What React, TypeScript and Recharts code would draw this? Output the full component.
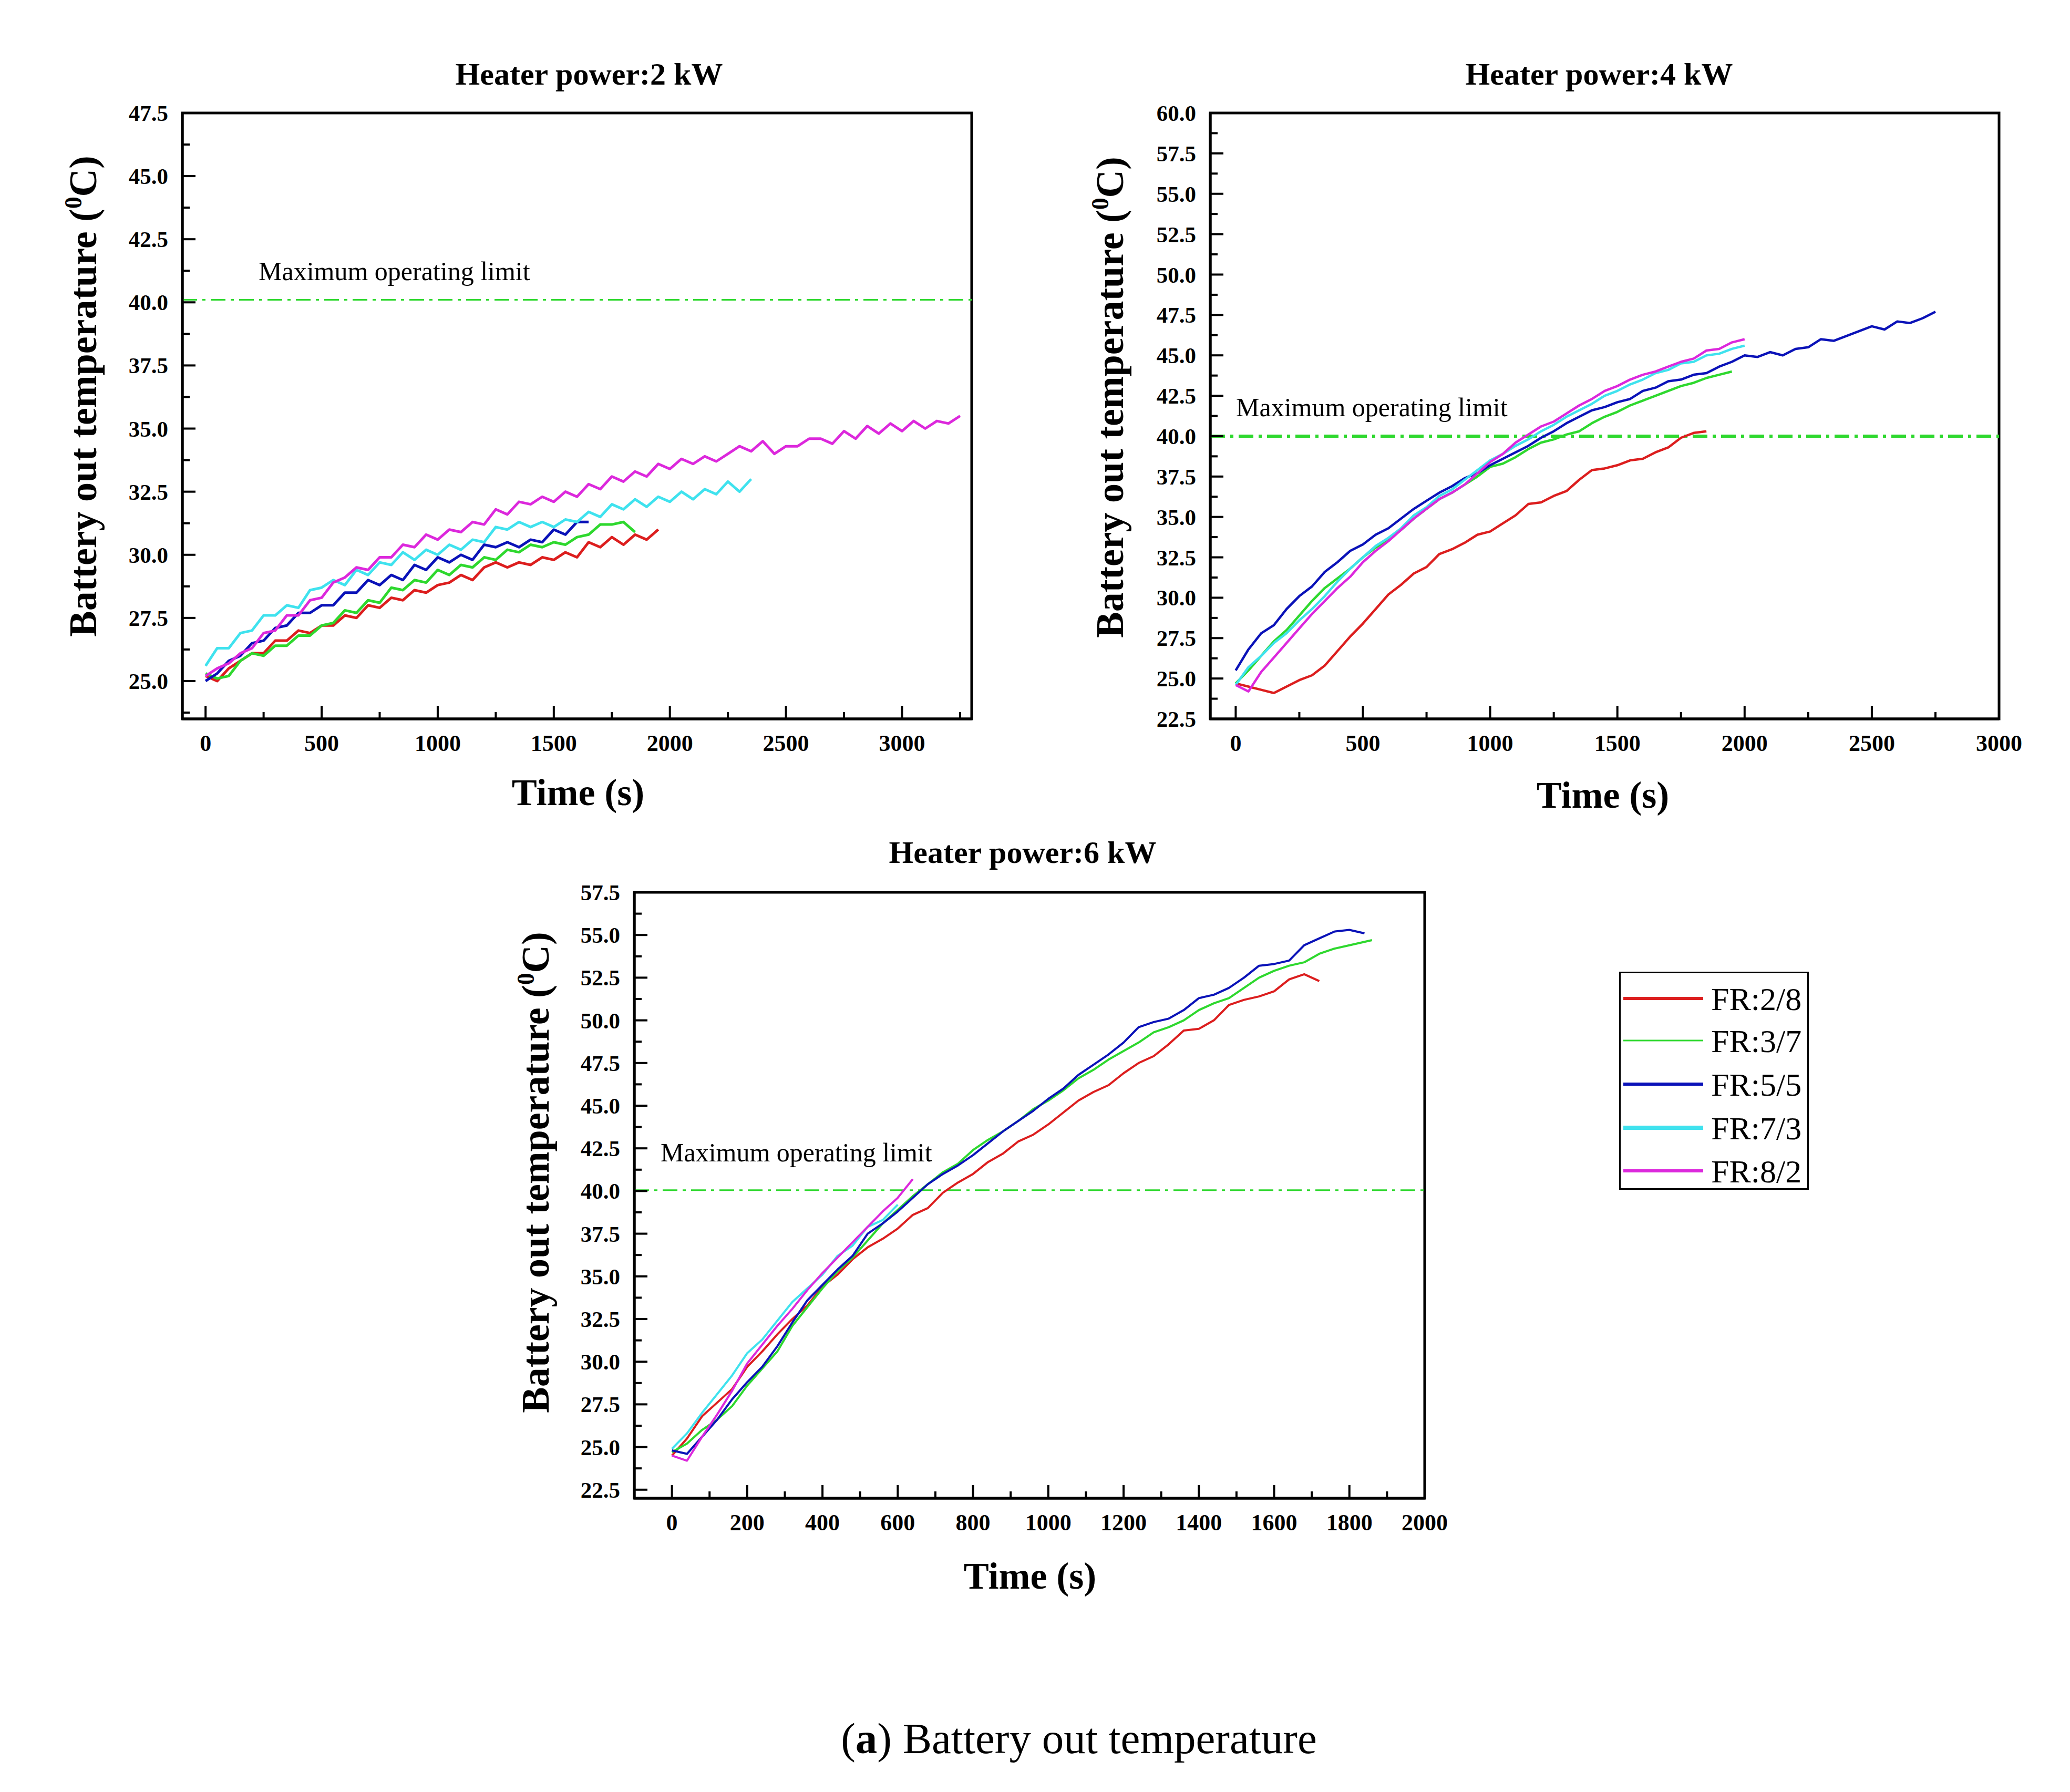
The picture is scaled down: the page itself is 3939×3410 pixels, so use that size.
import React from 'react'
import { LineChart, Line, XAxis, YAxis, ReferenceLine, ReferenceArea } from 'recharts'

const seriesNames = ['FR:2/8', 'FR:3/7', 'FR:5/5', 'FR:7/3', 'FR:8/2']
const seriesColors = ['#dc1e1e', '#2ed82e', '#0a12b8', '#3fe2ee', '#dc28dc']
const limitColor = '#2ed82e'
const serif = "'Liberation Serif', 'Times New Roman', serif"

// Heater power 2 kW
const time2kW = [
  0, 50, 100, 150, 200, 250, 300, 350, 400, 450, 500, 550, 600, 650, 700, 750, 800, 850, 900, 950,
  1000, 1050, 1100, 1150, 1200, 1250, 1300, 1350, 1400, 1450, 1500, 1550, 1600, 1650, 1700, 1750,
  1800, 1850, 1900, 1950, 2000, 2050, 2100, 2150, 2200, 2250, 2300, 2350, 2400, 2450, 2500, 2550,
  2600, 2650, 2700, 2750, 2800, 2850, 2900, 2950, 3000, 3050, 3100, 3150, 3200, 3250,
]
const fr28_2kW = [
  25.2, 25.0, 25.5, 25.8, 26.1, 26.1, 26.6, 26.6, 27.0, 26.9, 27.2, 27.2, 27.6, 27.5, 28.0, 27.9,
  28.3, 28.2, 28.6, 28.5, 28.8, 28.9, 29.2, 29.0, 29.5, 29.7, 29.5, 29.7, 29.6, 29.9, 29.8, 30.1,
  29.9, 30.5, 30.3, 30.7, 30.4, 30.8, 30.6, 31.0,
]
const fr37_2kW = [
  25.3, 25.1, 25.2, 25.8, 26.1, 26.0, 26.4, 26.4, 26.8, 26.8, 27.2, 27.3, 27.8, 27.7, 28.2, 28.1,
  28.7, 28.6, 29.0, 28.9, 29.4, 29.2, 29.6, 29.5, 29.9, 29.8, 30.2, 30.1, 30.4, 30.3, 30.5, 30.4,
  30.7, 30.8, 31.2, 31.2, 31.3, 30.9,
]
const fr55_2kW = [
  25.0, 25.3, 25.8, 26.0, 26.5, 26.6, 27.1, 27.2, 27.7, 27.7, 28.0, 28.0, 28.5, 28.5, 29.0, 28.8,
  29.2, 29.0, 29.6, 29.4, 29.9, 29.7, 30.0, 29.8, 30.4, 30.3, 30.5, 30.3, 30.6, 30.5, 31.0, 30.8,
  31.3, 31.3,
]
const fr73_2kW = [
  25.6, 26.3, 26.3, 26.9, 27.0, 27.6, 27.6, 28.0, 27.9, 28.6, 28.7, 29.0, 28.8, 29.4, 29.2, 29.7,
  29.6, 30.1, 29.8, 30.2, 30.0, 30.4, 30.2, 30.6, 30.5, 31.1, 31.0, 31.3, 31.1, 31.3, 31.1, 31.4,
  31.3, 31.7, 31.5, 32.0, 31.8, 32.2, 31.9, 32.3, 32.1, 32.5, 32.2, 32.6, 32.4, 32.9, 32.5, 33.0,
]
const fr82_2kW = [
  25.2, 25.5, 25.7, 26.1, 26.3, 26.9, 27.0, 27.6, 27.6, 28.2, 28.3, 28.9, 29.1, 29.5, 29.4, 29.9,
  29.9, 30.4, 30.3, 30.8, 30.6, 31.0, 30.9, 31.3, 31.2, 31.8, 31.6, 32.1, 32.0, 32.3, 32.1, 32.5,
  32.3, 32.8, 32.6, 33.1, 32.9, 33.3, 33.1, 33.6, 33.4, 33.8, 33.6, 33.9, 33.7, 34.0, 34.3, 34.1,
  34.5, 34.0, 34.3, 34.3, 34.6, 34.6, 34.4, 34.9, 34.6, 35.1, 34.8, 35.2, 34.9, 35.3, 35.0, 35.3,
  35.2, 35.5,
]
const xTicks2kW = [0, 250, 500, 750, 1000, 1250, 1500, 1750, 2000, 2250, 2500, 2750, 3000, 3250]
const yTicks2kW = [
  23.75, 25, 26.25, 27.5, 28.75, 30, 31.25, 32.5, 33.75, 35, 36.25, 37.5, 38.75, 40, 41.25, 42.5,
  43.75, 45, 46.25, 47.5,
]

// Heater power 4 kW
const time4kW = [
  0, 50, 100, 150, 200, 250, 300, 350, 400, 450, 500, 550, 600, 650, 700, 750, 800, 850, 900, 950,
  1000, 1050, 1100, 1150, 1200, 1250, 1300, 1350, 1400, 1450, 1500, 1550, 1600, 1650, 1700, 1750,
  1800, 1850, 1900, 1950, 2000, 2050, 2100, 2150, 2200, 2250, 2300, 2350, 2400, 2450, 2500, 2550,
  2600, 2650, 2700, 2750,
]
const fr28_4kW = [
  24.7, 24.5, 24.3, 24.1, 24.5, 24.9, 25.2, 25.8, 26.7, 27.6, 28.4, 29.3, 30.2, 30.8, 31.5, 31.9,
  32.7, 33.0, 33.4, 33.9, 34.1, 34.6, 35.1, 35.8, 35.9, 36.3, 36.6, 37.3, 37.9, 38.0, 38.2, 38.5,
  38.6, 39.0, 39.3, 39.9, 40.2, 40.3,
]
const fr37_4kW = [
  24.7, 25.5, 26.4, 27.3, 28.0, 28.9, 29.8, 30.6, 31.2, 31.8, 32.5, 33.1, 33.6, 34.2, 34.9, 35.5,
  36.1, 36.5, 37.0, 37.5, 38.1, 38.3, 38.7, 39.2, 39.6, 39.8, 40.1, 40.3, 40.8, 41.2, 41.5, 41.9,
  42.2, 42.5, 42.8, 43.1, 43.3, 43.6, 43.8, 44.0,
]
const fr55_4kW = [
  25.5, 26.8, 27.8, 28.3, 29.3, 30.1, 30.7, 31.6, 32.2, 32.9, 33.3, 33.9, 34.3, 34.9, 35.5, 36.0,
  36.5, 36.9, 37.4, 37.7, 38.2, 38.6, 39.0, 39.4, 39.9, 40.3, 40.8, 41.2, 41.6, 41.8, 42.1, 42.3,
  42.8, 43.0, 43.4, 43.5, 43.8, 43.9, 44.3, 44.6, 45.0, 44.9, 45.2, 45.0, 45.4, 45.5, 46.0, 45.9,
  46.2, 46.5, 46.8, 46.6, 47.1, 47.0, 47.3, 47.7,
]
const fr73_4kW = [
  24.6, 25.7, 26.4, 27.2, 27.8, 28.6, 29.3, 30.1, 31.0, 31.8, 32.5, 33.2, 33.7, 34.3, 35.1, 35.6,
  36.3, 36.7, 37.3, 37.9, 38.5, 38.9, 39.4, 39.8, 40.3, 40.7, 41.2, 41.6, 42.0, 42.5, 42.8, 43.2,
  43.5, 43.9, 44.1, 44.5, 44.6, 45.0, 45.1, 45.4, 45.6,
]
const fr82_4kW = [
  24.6, 24.2, 25.4, 26.3, 27.2, 28.1, 29.0, 29.8, 30.6, 31.3, 32.2, 32.9, 33.5, 34.2, 34.9, 35.5,
  36.1, 36.5, 37.0, 37.7, 38.4, 38.9, 39.6, 40.1, 40.6, 40.9, 41.4, 41.9, 42.3, 42.8, 43.1, 43.5,
  43.8, 44.0, 44.3, 44.6, 44.8, 45.3, 45.4, 45.8, 46.0,
]
const xTicks4kW = [0, 250, 500, 750, 1000, 1250, 1500, 1750, 2000, 2250, 2500, 2750, 3000]
const yTicks4kW = [
  22.5, 23.75, 25, 26.25, 27.5, 28.75, 30, 31.25, 32.5, 33.75, 35, 36.25, 37.5, 38.75, 40, 41.25,
  42.5, 43.75, 45, 46.25, 47.5, 48.75, 50, 51.25, 52.5, 53.75, 55, 56.25, 57.5, 58.75, 60,
]

// Heater power 6 kW
const time6kW = [
  0, 40, 80, 120, 160, 200, 240, 280, 320, 360, 400, 440, 480, 520, 560, 600, 640, 680, 720, 760,
  800, 840, 880, 920, 960, 1000, 1040, 1080, 1120, 1160, 1200, 1240, 1280, 1320, 1360, 1400, 1440,
  1480, 1520, 1560, 1600, 1640, 1680, 1720, 1760, 1800, 1840, 1860,
]
const fr28_6kW = [
  24.5, 25.5, 26.8, 27.6, 28.4, 29.7, 30.6, 31.6, 32.5, 33.3, 34.4, 35.1, 36.0, 36.7, 37.2, 37.8,
  38.6, 39.0, 39.9, 40.5, 41.0, 41.7, 42.2, 42.9, 43.3, 43.9, 44.6, 45.3, 45.8, 46.2, 46.9, 47.5,
  47.9, 48.6, 49.4, 49.5, 50.0, 50.9, 51.2, 51.4, 51.7, 52.4, 52.7, 52.3,
]
const fr37_6kW = [
  24.7, 25.2, 26.0, 26.6, 27.4, 28.6, 29.6, 30.6, 32.1, 33.2, 34.3, 35.3, 36.1, 37.1, 38.1, 38.9,
  39.7, 40.4, 41.1, 41.6, 42.4, 43.0, 43.5, 44.1, 44.8, 45.3, 45.9, 46.6, 47.1, 47.7, 48.2, 48.7,
  49.3, 49.6, 50.0, 50.6, 51.0, 51.3, 51.9, 52.5, 52.9, 53.2, 53.4, 53.9, 54.2, 54.4, 54.6, 54.7,
]
const fr55_6kW = [
  24.8, 24.6, 25.6, 26.6, 27.8, 28.8, 29.7, 30.9, 32.3, 33.6, 34.5, 35.4, 36.2, 37.5, 38.1, 38.8,
  39.6, 40.4, 41.0, 41.5, 42.1, 42.8, 43.5, 44.1, 44.7, 45.4, 46.0, 46.8, 47.4, 48.0, 48.7, 49.6,
  49.9, 50.1, 50.6, 51.3, 51.5, 51.9, 52.5, 53.2, 53.3, 53.5, 54.4, 54.8, 55.2, 55.3, 55.1,
]
const fr73_6kW = [
  24.9, 25.8, 27.0, 28.1, 29.2, 30.5, 31.3, 32.4, 33.5, 34.3, 35.1, 36.2, 36.8, 37.9, 38.3, 39.2,
]
const fr82_6kW = [
  24.5, 24.2, 25.6, 26.9, 28.3, 29.9, 31.0, 32.1, 33.1, 34.2, 35.2, 36.1, 37.0, 37.9, 38.8, 39.6,
  40.7,
]
const xTicks6kW = [
  0, 100, 200, 300, 400, 500, 600, 700, 800, 900, 1000, 1100, 1200, 1300, 1400, 1500, 1600, 1700,
  1800, 1900, 2000,
]
const yTicks6kW = [
  22.5, 23.75, 25, 26.25, 27.5, 28.75, 30, 31.25, 32.5, 33.75, 35, 36.25, 37.5, 38.75, 40, 41.25,
  42.5, 43.75, 45, 46.25, 47.5, 48.75, 50, 51.25, 52.5, 53.75, 55, 56.25, 57.5,
]

function buildRows(times: number[], series: number[][]) {
  return times.map((t, i) => {
    const row: Record<string, number | undefined> = { t }
    series.forEach((vals, k) => {
      row['s' + k] = vals[i]
    })
    return row
  })
}

const YW = 120
const XH = 100
const MT = 40
const MR = 70

interface PanelProps {
  plotLeft: number
  plotTop: number
  plotW: number
  plotH: number
  rows: Record<string, number | undefined>[]
  xDomain: [number, number]
  xTicks: number[]
  xMajor: number
  yDomain: [number, number]
  yTicks: number[]
  limit: number
  limitWidth: number
  labelDx: number
  labelDy: number
  lineWidth: number
}

const XTick = (props: any) => {
  const { x, y, payload, major } = props
  const isMajor = payload.value % major === 0
  return (
    <g>
      <line x1={x} x2={x} y1={y} y2={y - (isMajor ? 25 : 13)} stroke="#000" strokeWidth={4} />
      {isMajor && (
        <text x={x} y={y + 46} dy="0.35em" textAnchor="middle" fontFamily={serif} fontWeight="bold" fontSize={44} fill="#000">
          {payload.value}
        </text>
      )}
    </g>
  )
}

const YTick = (props: any) => {
  const { x, y, payload } = props
  const q = payload.value / 2.5
  const isMajor = Math.abs(q - Math.round(q)) < 1e-6
  return (
    <g>
      <line x1={x} x2={x + (isMajor ? 25 : 14)} y1={y} y2={y} stroke="#000" strokeWidth={4} />
      {isMajor && (
        <text x={x - 27} y={y} dy="0.35em" textAnchor="end" fontFamily={serif} fontWeight="bold" fontSize={43} fill="#000">
          {payload.value.toFixed(1)}
        </text>
      )}
    </g>
  )
}

const LimitLabel = (props: any) => {
  const { viewBox, dx, dyUp } = props
  if (!viewBox) return null
  return (
    <text x={viewBox.x + dx} y={viewBox.y - dyUp} dy="0.35em" fontFamily={serif} fontSize={50} fill="#000">
      Maximum operating limit
    </text>
  )
}

function Panel(p: PanelProps) {
  return (
    <div style={{ position: 'absolute', left: p.plotLeft - YW, top: p.plotTop - MT }}>
      <LineChart
        width={YW + p.plotW + MR}
        height={MT + p.plotH + XH}
        data={p.rows}
        margin={{ top: MT, right: MR, bottom: 0, left: 0 }}
      >
        <XAxis
          type="number"
          dataKey="t"
          domain={p.xDomain}
          ticks={p.xTicks}
          interval={0}
          height={XH}
          tickSize={0}
          tickMargin={0}
          tickLine={false}
          axisLine={{ stroke: '#000', strokeWidth: 5 }}
          tick={(props: any) => <XTick {...props} major={p.xMajor} />}
        />
        <YAxis
          type="number"
          domain={p.yDomain}
          ticks={p.yTicks}
          interval={0}
          width={YW}
          tickSize={0}
          tickMargin={0}
          tickLine={false}
          axisLine={{ stroke: '#000', strokeWidth: 5 }}
          tick={(props: any) => <YTick {...props} />}
        />
        <ReferenceArea
          x1={p.xDomain[0]}
          x2={p.xDomain[1]}
          y1={p.yDomain[0]}
          y2={p.yDomain[1]}
          fill="none"
          fillOpacity={0}
          stroke="#000"
          strokeWidth={5}
          ifOverflow="visible"
        />
        <ReferenceLine
          y={p.limit}
          stroke={limitColor}
          strokeWidth={p.limitWidth}
          strokeDasharray="28 10 6 10"
          label={<LimitLabel dx={p.labelDx} dyUp={p.labelDy} />}
        />
        {seriesNames.map((name, k) => (
          <Line
            key={name}
            name={name}
            type="linear"
            dataKey={'s' + k}
            stroke={seriesColors[k]}
            strokeWidth={p.lineWidth}
            strokeLinejoin="round"
            dot={false}
            activeDot={false}
            connectNulls={false}
            isAnimationActive={false}
          />
        ))}
      </LineChart>
    </div>
  )
}

const titleStyle: React.CSSProperties = {
  position: 'absolute',
  transform: 'translate(-50%, -50%)',
  whiteSpace: 'nowrap',
  fontFamily: serif,
  fontWeight: 'bold',
  lineHeight: 1,
  color: '#000',
}

function Title({ x, y, size, children }: { x: number; y: number; size: number; children: React.ReactNode }) {
  return <div style={{ ...titleStyle, left: x, top: y, fontSize: size }}>{children}</div>
}

function YTitle({ x, y }: { x: number; y: number }) {
  return (
    <div style={{ ...titleStyle, left: x, top: y, fontSize: 74, transform: 'translate(-50%, -50%) rotate(-90deg)' }}>
      Battery out temperature (<span style={{ fontSize: '0.62em', verticalAlign: '0.62em' }}>0</span>C)
    </div>
  )
}

const legendWidths = [6, 3, 6, 8, 6]

function LegendBox() {
  const rowsY = [48, 128, 211, 294, 376]
  return (
    <div style={{ position: 'absolute', left: 3081, top: 1849, width: 361, height: 415, boxSizing: 'border-box', border: '3px solid #000', background: '#fff' }}>
      <svg width={355} height={409} style={{ display: 'block', overflow: 'visible' }}>
        {seriesNames.map((name, k) => (
          <g key={name}>
            <line x1={5} x2={157} y1={rowsY[k]} y2={rowsY[k]} stroke={seriesColors[k]} strokeWidth={legendWidths[k]} />
            <text x={172} y={rowsY[k]} dy="0.35em" fontFamily={serif} fontSize={62} fill="#000">
              {name}
            </text>
          </g>
        ))}
      </svg>
    </div>
  )
}

export default function App() {
  const rows2 = buildRows(time2kW, [fr28_2kW, fr37_2kW, fr55_2kW, fr73_2kW, fr82_2kW])
  const rows4 = buildRows(time4kW, [fr28_4kW, fr37_4kW, fr55_4kW, fr73_4kW, fr82_4kW])
  const rows6 = buildRows(time6kW, [fr28_6kW, fr37_6kW, fr55_6kW, fr73_6kW, fr82_6kW])

  return (
    <div style={{ position: 'absolute', left: 0, top: 0, width: 3939, height: 3410, background: '#fff', overflow: 'hidden' }}>
      <Panel
        plotLeft={347}
        plotTop={215}
        plotW={1502}
        plotH={1153}
        rows={rows2}
        xDomain={[-100, 3300]}
        xTicks={xTicks2kW}
        xMajor={500}
        yDomain={[23.5, 47.5]}
        yTicks={yTicks2kW}
        limit={40.1}
        limitWidth={3}
        labelDx={145}
        labelDy={55}
        lineWidth={5}
      />
      <Panel
        plotLeft={2303}
        plotTop={215}
        plotW={1501}
        plotH={1153}
        rows={rows4}
        xDomain={[-100, 3000]}
        xTicks={xTicks4kW}
        xMajor={500}
        yDomain={[22.5, 60]}
        yTicks={yTicks4kW}
        limit={40}
        limitWidth={6}
        labelDx={49}
        labelDy={55}
        lineWidth={4.5}
      />
      <Panel
        plotLeft={1207}
        plotTop={1698}
        plotW={1504}
        plotH={1153}
        rows={rows6}
        xDomain={[-100, 2000]}
        xTicks={xTicks6kW}
        xMajor={200}
        yDomain={[22, 57.5]}
        yTicks={yTicks6kW}
        limit={40.05}
        limitWidth={3}
        labelDx={50}
        labelDy={72}
        lineWidth={4}
      />

      <Title x={1121} y={141} size={60}>Heater power:2 kW</Title>
      <Title x={3043} y={141} size={60}>Heater power:4 kW</Title>
      <Title x={1946} y={1622} size={60}>Heater power:6 kW</Title>

      <YTitle x={156} y={754} />
      <YTitle x={2110} y={756} />
      <YTitle x={1017} y={2231} />

      <Title x={1100} y={1508} size={72}>Time (s)</Title>
      <Title x={3050} y={1513} size={72}>Time (s)</Title>
      <Title x={1960} y={2999} size={72}>Time (s)</Title>

      <LegendBox />

      <div style={{ ...titleStyle, fontWeight: 'normal', left: 2053, top: 3308, fontSize: 83 }}>
        (<b>a</b>) Battery out temperature
      </div>
    </div>
  )
}
